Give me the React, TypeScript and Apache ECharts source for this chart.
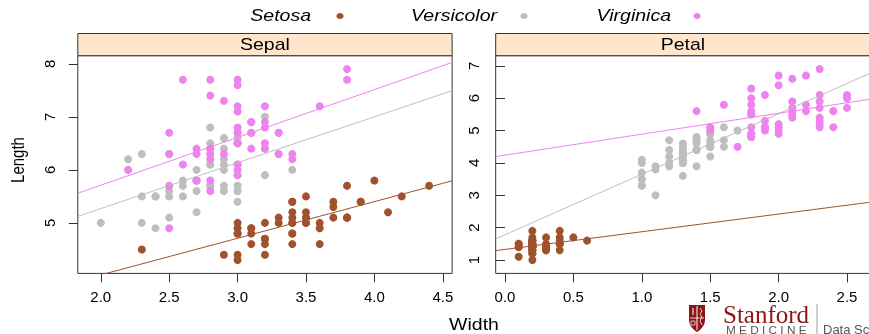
import React, { useEffect, useRef } from "react";
import * as echarts from "echarts";

const SPECIES = ["Setosa", "Versicolor", "Virginica"];
const COLORS = ["#A0522D", "#BEBEBE", "#EE82EE"];
const PANELS = ["Sepal", "Petal"];

const setosaSepalLength = [5.1,4.9,4.7,4.6,5.0,5.4,4.6,5.0,4.4,4.9,5.4,4.8,4.8,4.3,5.8,5.7,5.4,5.1,5.7,5.1,5.4,5.1,4.6,5.1,4.8,5.0,5.0,5.2,5.2,4.7,4.8,5.4,5.2,5.5,4.9,5.0,5.5,4.9,4.4,5.1,5.0,4.5,4.4,5.0,5.1,4.8,5.1,4.6,5.3,5.0];
const setosaSepalWidth = [3.5,3.0,3.2,3.1,3.6,3.9,3.4,3.4,2.9,3.1,3.7,3.4,3.0,3.0,4.0,4.4,3.9,3.5,3.8,3.8,3.4,3.7,3.6,3.3,3.4,3.0,3.4,3.5,3.4,3.2,3.1,3.4,4.1,4.2,3.1,3.2,3.5,3.6,3.0,3.4,3.5,2.3,3.2,3.5,3.8,3.0,3.8,3.2,3.7,3.3];
const setosaPetalLength = [1.4,1.4,1.3,1.5,1.4,1.7,1.4,1.5,1.4,1.5,1.5,1.6,1.4,1.1,1.2,1.5,1.3,1.4,1.7,1.5,1.7,1.5,1.0,1.7,1.9,1.6,1.6,1.5,1.4,1.6,1.6,1.5,1.5,1.4,1.5,1.2,1.3,1.4,1.3,1.5,1.3,1.3,1.3,1.6,1.9,1.4,1.6,1.4,1.5,1.4];
const setosaPetalWidth = [0.2,0.2,0.2,0.2,0.2,0.4,0.3,0.2,0.2,0.1,0.2,0.2,0.1,0.1,0.2,0.4,0.4,0.3,0.3,0.3,0.2,0.4,0.2,0.5,0.2,0.2,0.4,0.2,0.2,0.2,0.2,0.4,0.1,0.2,0.2,0.2,0.2,0.1,0.2,0.2,0.3,0.3,0.2,0.6,0.4,0.3,0.2,0.2,0.2,0.2];

const versicolorSepalLength = [7.0,6.4,6.9,5.5,6.5,5.7,6.3,4.9,6.6,5.2,5.0,5.9,6.0,6.1,5.6,6.7,5.6,5.8,6.2,5.6,5.9,6.1,6.3,6.1,6.4,6.6,6.8,6.7,6.0,5.7,5.5,5.5,5.8,6.0,5.4,6.0,6.7,6.3,5.6,5.5,5.5,6.1,5.8,5.0,5.6,5.7,5.7,6.2,5.1,5.7];
const versicolorSepalWidth = [3.2,3.2,3.1,2.3,2.8,2.8,3.3,2.4,2.9,2.7,2.0,3.0,2.2,2.9,2.9,3.1,3.0,2.7,2.2,2.5,3.2,2.8,2.5,2.8,2.9,3.0,2.8,3.0,2.9,2.6,2.4,2.4,2.7,2.7,3.0,3.4,3.1,2.3,3.0,2.5,2.6,3.0,2.6,2.3,2.7,3.0,2.9,2.9,2.5,2.8];
const versicolorPetalLength = [4.7,4.5,4.9,4.0,4.6,4.5,4.7,3.3,4.6,3.9,3.5,4.2,4.0,4.7,3.6,4.4,4.5,4.1,4.5,3.9,4.8,4.0,4.9,4.7,4.3,4.4,4.8,5.0,4.5,3.5,3.8,3.7,3.9,5.1,4.5,4.5,4.7,4.4,4.1,4.0,4.4,4.6,4.0,3.3,4.2,4.2,4.2,4.3,3.0,4.1];
const versicolorPetalWidth = [1.4,1.5,1.5,1.3,1.5,1.3,1.6,1.0,1.3,1.4,1.0,1.5,1.0,1.4,1.3,1.4,1.5,1.0,1.5,1.1,1.8,1.3,1.5,1.2,1.3,1.4,1.4,1.7,1.5,1.0,1.1,1.0,1.2,1.6,1.5,1.6,1.5,1.3,1.3,1.3,1.2,1.4,1.2,1.0,1.3,1.2,1.3,1.3,1.1,1.3];

const virginicaSepalLength = [6.3,5.8,7.1,6.3,6.5,7.6,4.9,7.3,6.7,7.2,6.5,6.4,6.8,5.7,5.8,6.4,6.5,7.7,7.7,6.0,6.9,5.6,7.7,6.3,6.7,7.2,6.2,6.1,6.4,7.2,7.4,7.9,6.4,6.3,6.1,7.7,6.3,6.4,6.0,6.9,6.7,6.9,5.8,6.8,6.7,6.7,6.3,6.5,6.2,5.9];
const virginicaSepalWidth = [3.3,2.7,3.0,2.9,3.0,3.0,2.5,2.9,2.5,3.6,3.2,2.7,3.0,2.5,2.8,3.2,3.0,3.8,2.6,2.2,3.2,2.8,2.8,2.7,3.3,3.2,2.8,3.0,2.8,3.0,2.8,3.8,2.8,2.8,2.6,3.0,3.4,3.1,3.0,3.1,3.1,3.1,2.7,3.2,3.3,3.0,2.5,3.0,3.4,3.0];
const virginicaPetalLength = [6.0,5.1,5.9,5.6,5.8,6.6,4.5,6.3,5.8,6.1,5.1,5.3,5.5,5.0,5.1,5.3,5.5,6.7,6.9,5.0,5.7,4.9,6.7,4.9,5.7,6.0,4.8,4.9,5.6,5.8,6.1,6.4,5.6,5.1,5.6,6.1,5.6,5.5,4.8,5.4,5.6,5.1,5.1,5.9,5.7,5.2,5.0,5.2,5.4,5.1];
const virginicaPetalWidth = [2.5,1.9,2.1,1.8,2.2,2.1,1.7,1.8,1.8,2.5,2.0,1.9,2.1,2.0,2.4,2.3,1.8,2.2,2.3,1.5,2.3,2.0,2.0,1.8,2.1,1.8,1.8,1.8,2.1,1.6,1.9,2.0,2.2,1.5,1.4,2.3,2.4,1.8,1.8,2.1,2.4,2.3,1.9,2.3,2.5,2.3,1.9,2.0,2.3,1.8];

const sepalXTicks = [2.0, 2.5, 3.0, 3.5, 4.0, 4.5];
const sepalYTicks = [5, 6, 7, 8];
const petalXTicks = [0.0, 0.5, 1.0, 1.5, 2.0, 2.5];
const petalYTicks = [1, 2, 3, 4, 5, 6, 7];

const sepalData = [
  [setosaSepalWidth, setosaSepalLength],
  [versicolorSepalWidth, versicolorSepalLength],
  [virginicaSepalWidth, virginicaSepalLength],
];
const petalData = [
  [setosaPetalWidth, setosaPetalLength],
  [versicolorPetalWidth, versicolorPetalLength],
  [virginicaPetalWidth, virginicaPetalLength],
];

function fit(xs: number[], ys: number[]) {
  const n = xs.length;
  const mx = xs.reduce((a, b) => a + b, 0) / n;
  const my = ys.reduce((a, b) => a + b, 0) / n;
  let sxy = 0, sxx = 0;
  for (let i = 0; i < n; i++) {
    sxy += (xs[i] - mx) * (ys[i] - my);
    sxx += (xs[i] - mx) * (xs[i] - mx);
  }
  const b = sxy / sxx;
  return [my - b * mx, b];
}

function padRange(arrs: number[][]) {
  let lo = Infinity, hi = -Infinity;
  arrs.forEach((a) => a.forEach((v) => { lo = Math.min(lo, v); hi = Math.max(hi, v); }));
  const p = (hi - lo) * 0.07;
  return [lo - p, hi + p];
}

const SHIELD = "M0 0 H16 V15 C16 21 11 25 8 27 C5 25 0 21 0 15 Z";

export default function App() {
  const ref = useRef<HTMLDivElement>(null);
  useEffect(() => {
    document.body.style.overflow = "hidden";
    echarts.graphic.registerShape("shield", echarts.graphic.extendPath(SHIELD, {}) as any);
    const chart = echarts.init(ref.current!, null, { renderer: "svg" });
    const panelsData = [sepalData, petalData];
    const gridTop = 55.7;
    const gridH = 217.7;
    const gridW = 374.3;
    const gridLefts = [77.8, 495.7];
    const yLabelMargins = [21, 15];
    const xTicks = [sepalXTicks, petalXTicks];
    const yTicks = [sepalYTicks, petalYTicks];

    const grids: any[] = [];
    const xAxes: any[] = [];
    const yAxes: any[] = [];
    const series: any[] = [];
    const graphics: any[] = [];

    panelsData.forEach((pd, pi) => {
      const xr = padRange(pd.map((d) => d[0]));
      const yr = padRange(pd.map((d) => d[1]));
      grids.push({
        left: gridLefts[pi], top: gridTop, width: gridW, height: gridH,
        show: true, borderColor: "#333", borderWidth: 1, backgroundColor: "#fff",
      });
      xAxes.push({
        type: "value", gridIndex: pi, min: xr[0], max: xr[1],
        axisLine: { show: false },
        splitLine: { show: false },
        axisTick: { show: true, length: 9, customValues: xTicks[pi], lineStyle: { color: "#333" } },
        axisLabel: {
          customValues: xTicks[pi], fontSize: 15, color: "#000", margin: 17, lineHeight: 12,
          formatter: (v: number) => v.toFixed(1),
        },
      });
      yAxes.push({
        type: "value", gridIndex: pi, min: yr[0], max: yr[1],
        axisLine: { show: false },
        splitLine: { show: false },
        axisTick: { show: true, length: 9, customValues: yTicks[pi], lineStyle: { color: "#333" } },
        axisLabel: {
          customValues: yTicks[pi], fontSize: 15, color: "#000", margin: yLabelMargins[pi], rotate: 90,
          formatter: (v: number) => String(Math.round(v)),
        },
      });
      pd.forEach((d, si) => {
        const pts = d[0].map((x, i) => [x, d[1][i]]);
        series.push({
          type: "scatter", name: SPECIES[si], xAxisIndex: pi, yAxisIndex: pi,
          data: pts, symbol: "circle", symbolSize: 8,
          itemStyle: { color: COLORS[si], opacity: 1 },
        });
        const [a, b] = fit(d[0], d[1]);
        series.push({
          type: "line", xAxisIndex: pi, yAxisIndex: pi, clip: true,
          data: [[xr[0], a + b * xr[0]], [xr[1], a + b * xr[1]]],
          symbol: "none", lineStyle: { color: COLORS[si], width: 1 },
        });
      });
      graphics.push({
        type: "rect", shape: { x: gridLefts[pi], y: 33.5, width: gridW, height: gridTop - 33.5 },
        style: { fill: "#FFE5CC", stroke: "#333", lineWidth: 1 },
      });
      graphics.push({
        type: "text", x: gridLefts[pi] + gridW / 2, y: (33.5 + gridTop) / 2 + 0.5, scaleX: 1.22,
        style: { text: PANELS[pi], fontSize: 16, fill: "#000", textAlign: "center", textVerticalAlign: "middle", fontFamily: "Liberation Sans" },
      });
    });

    const legendTextRight = [311, 497, 671];
    const legendDotX = [340, 524, 697];
    SPECIES.forEach((s, i) => {
      graphics.push({
        type: "text", x: legendTextRight[i], y: 16, scaleX: 1.22,
        style: { text: s, fontSize: 16, fontStyle: "italic", fill: "#000", textAlign: "right", textVerticalAlign: "middle", fontFamily: "Liberation Sans" },
      });
      graphics.push({
        type: "ellipse", shape: { cx: legendDotX[i], cy: 16, rx: 3.6, ry: 3.1 },
        style: { fill: COLORS[i] },
      });
    });

    graphics.push({
      type: "text", x: 474, y: 325, scaleX: 1.22,
      style: { text: "Width", fontSize: 16, fill: "#000", textAlign: "center", textVerticalAlign: "middle", fontFamily: "Liberation Sans" },
    });
    graphics.push({
      type: "text", x: 18, y: 160, rotation: Math.PI / 2, scaleY: 1.2,
      style: { text: "Length", fontSize: 15, fill: "#000", textAlign: "center", textVerticalAlign: "middle", fontFamily: "Liberation Sans" },
    });

    graphics.push({ type: "shield", x: 689, y: 305, style: { fill: "#8C1515" } });
    graphics.push({ type: "line", shape: { x1: 697, y1: 306, x2: 697, y2: 330 }, style: { stroke: "#fff", lineWidth: 1 } });
    graphics.push({ type: "line", shape: { x1: 690, y1: 318, x2: 704, y2: 318 }, style: { stroke: "#fff", lineWidth: 0.8 } });
    graphics.push({ type: "line", shape: { x1: 693, y1: 308, x2: 693, y2: 315 }, style: { stroke: "#fff", lineWidth: 1 } });
    graphics.push({ type: "polyline", shape: { points: [[700, 308], [702, 311], [700, 314], [702, 317], [700, 321], [702, 325]] }, style: { stroke: "#fff", lineWidth: 0.8, fill: "none" } });
    graphics.push({ type: "rect", shape: { x: 691, y: 321, width: 4, height: 4 }, style: { stroke: "#fff", lineWidth: 0.7, fill: "none" } });
    graphics.push({
      type: "text", x: 723, y: 304,
      style: { text: "Stanford", fontSize: 25, fill: "#8C1515", fontFamily: "Liberation Serif", textVerticalAlign: "top", lineHeight: 20 },
    });
    graphics.push({
      type: "text", x: 726, y: 326.5, scaleX: 1.18,
      style: { text: "M E D I C I N E", fontSize: 10, fill: "#555", fontFamily: "Liberation Sans", textVerticalAlign: "top", lineHeight: 8 },
    });
    graphics.push({ type: "line", shape: { x1: 817, y1: 304, x2: 817, y2: 334 }, style: { stroke: "#999", lineWidth: 1 } });
    graphics.push({
      type: "text", x: 823, y: 324,
      style: { text: "Data Sc", fontSize: 13, fill: "#555", fontFamily: "Liberation Sans", textVerticalAlign: "top", lineHeight: 10 },
    });

    chart.setOption({
      animation: false,
      textStyle: { fontFamily: "Liberation Sans" },
      grid: grids,
      xAxis: xAxes,
      yAxis: yAxes,
      series,
      graphic: graphics,
    });
    return () => chart.dispose();
  }, []);
  return <div ref={ref} style={{ position: "fixed", left: 0, top: 0, width: 880, height: 334 }} />;
}
